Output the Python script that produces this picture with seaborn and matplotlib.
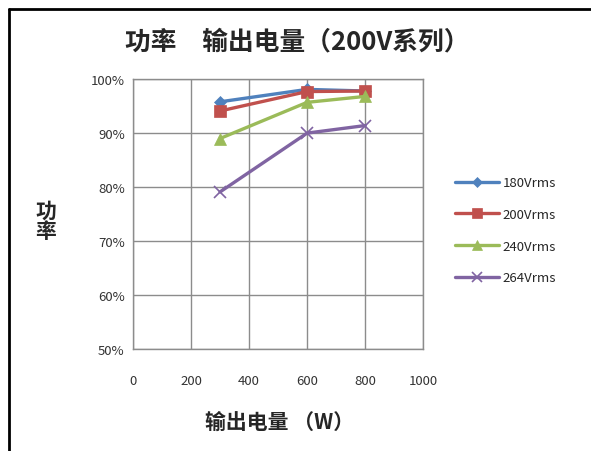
import matplotlib.pyplot as plt
import matplotlib.lines as mlines
import numpy as np
import pandas as pd
import seaborn as sns

power_w = [300, 600, 800]
eff_180 = [95.8, 98.1, 97.8]
eff_200 = [94.1, 97.7, 97.8]
eff_240 = [89.0, 95.7, 96.8]
eff_264 = [79.1, 90.0, 91.4]
series_names = ['180Vrms', '200Vrms', '240Vrms', '264Vrms']
x_ticks = [0, 200, 400, 600, 800, 1000]
y_ticks = [50, 60, 70, 80, 90, 100]

colors = ['#4F81BD', '#C0504D', '#9BBB59', '#8064A2']
markers = ['D', 's', '^', 'x']
msizes = [6, 9, 9, 9]

df = pd.DataFrame({
    'power': power_w * 4,
    'eff': eff_180 + eff_200 + eff_240 + eff_264,
    'series': np.repeat(series_names, len(power_w)),
})

sns.set_theme(style='white')
plt.rcParams['font.family'] = ['Noto Sans CJK SC', 'DejaVu Sans']

fig = plt.figure(figsize=(5.91, 4.52), dpi=100)
ax = fig.add_axes([0.225, 0.2257, 0.491, 0.597])

for name, col, mk, ms in zip(series_names, colors, markers, msizes):
    sub = df[df['series'] == name]
    sns.lineplot(data=sub, x='power', y='eff', ax=ax, color=col, lw=2.4,
                 marker=mk, markersize=ms, markeredgecolor=col,
                 markeredgewidth=1.2 if mk == 'x' else 0.5, label=name)

ax.set_xlim(0, 1000)
ax.set_ylim(50, 100)
ax.set_xticks(x_ticks)
ax.set_yticks(y_ticks)
ax.set_yticklabels(['{}%'.format(v) for v in y_ticks])
ax.grid(True, color='#8c8c8c', lw=1)
for s in ax.spines.values():
    s.set_color('#8c8c8c')
    s.set_linewidth(1)
ax.tick_params(axis='both', which='both', direction='out', length=4, width=1,
               color='#8c8c8c', labelsize=9.5, labelcolor='#333333', pad=2)
ax.tick_params(axis='x', pad=14)
ax.set_xlabel('')
ax.set_ylabel('')

handles = [mlines.Line2D([], [], color=c, lw=2.4, marker=m, markersize=ms * 0.8,
                         markeredgecolor=c, markeredgewidth=1.2 if m == 'x' else 0.5)
           for c, m, ms in zip(colors, markers, msizes)]
ax.legend(handles, series_names, loc='center left', bbox_to_anchor=(1.07, 0.44),
          frameon=False, fontsize=9.5, handlelength=3.3, labelspacing=1.42,
          handletextpad=0.3)

fig.text(0.503, 0.907, '功率　输出电量（200V系列）', ha='center', va='center',
         fontsize=18.5, fontweight='bold')
fig.text(0.473, 0.066, '输出电量 （W）', ha='center', va='center',
         fontsize=15, fontweight='bold')
fig.text(0.077, 0.51, '功\n率', ha='center', va='center', fontsize=15,
         fontweight='bold', linespacing=1.0)

# border lines of the cropped chart frame
fig.add_artist(mlines.Line2D([0.015, 1.0], [0.977, 0.977], color='black', lw=2))
fig.add_artist(mlines.Line2D([0.015, 0.015], [0.0, 0.977], color='black', lw=2))

fig.savefig('out.png', dpi=100)
